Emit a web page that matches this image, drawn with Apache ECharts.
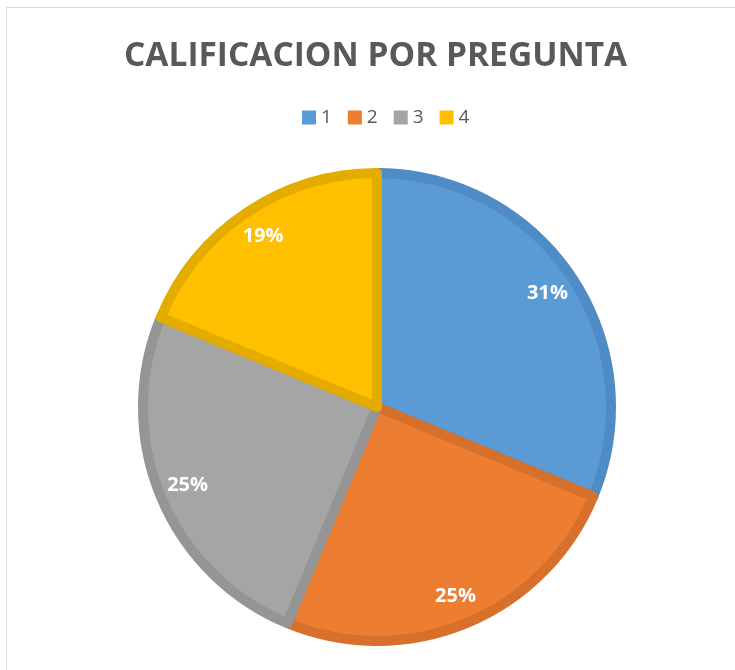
<!DOCTYPE html>
<html>
<head>
<meta charset="utf-8">
<script src="https://cdn.jsdelivr.net/npm/echarts@6/dist/echarts.min.js"></script>
<style>
  html, body { margin: 0; padding: 0; background: #fff; }
  #container { width: 735px; height: 670px; }
</style>
</head>
<body>
<div id="container"></div>
<script>
var dom = document.getElementById("container");
var myChart = echarts.init(dom);
var option;

// data
var categories = ["1", "2", "3", "4"];
var values = [5, 4, 4, 3];
var fillColors = ["#5B9BD5", "#ED7D31", "#A5A5A5", "#FFC000"];
var edgeColors = ["#4F8BC4", "#D6702B", "#959595", "#E5AC00"];

var pieData = categories.map(function (c, i) {
  return {
    name: c,
    value: values[i],
    itemStyle: { color: fillColors[i], borderColor: edgeColors[i] }
  };
});

// transparent ring used only to place the % labels near the rim
var labelData = categories.map(function (c, i) {
  return { name: c, value: values[i] };
});

option = {
  animation: false,
  title: {
    text: "CALIFICACION POR PREGUNTA",
    left: 119,
    top: 34,
    textStyle: {
      fontFamily: "Open Sans",
      fontWeight: "bold",
      fontSize: 33.5,
      color: "#595959"
    }
  },
  legend: {
    data: categories,
    left: 297,
    top: 103,
    itemWidth: 14,
    itemHeight: 14,
    itemGap: 16,
    icon: "rect",
    itemStyle: { borderWidth: 0 },
    textStyle: { fontFamily: "Open Sans", fontSize: 19, color: "#595959" }
  },
  graphic: [
    {
      type: "rect",
      shape: { x: 6.5, y: 7.5, width: 760, height: 700 },
      style: { fill: "none", stroke: "#d9d9d9", lineWidth: 1 },
      silent: true
    }
  ],
  series: [
    {
      name: "CALIFICACION POR PREGUNTA",
      type: "pie",
      center: [377, 407],
      radius: 234,
      startAngle: 90,
      clockwise: true,
      data: pieData,
      itemStyle: { borderWidth: 10 },
      label: { show: false },
      labelLine: { show: false },
      emphasis: { disabled: true }
    },
    {
      name: "labels",
      type: "pie",
      center: [377, 407],
      radius: [166, 238],
      startAngle: 90,
      clockwise: true,
      silent: true,
      legendHoverLink: false,
      data: labelData,
      itemStyle: { color: "rgba(0,0,0,0)", borderWidth: 0 },
      label: {
        show: true,
        position: "inside",
        formatter: function (p) { return Math.round(p.percent) + "%"; },
        fontFamily: "Open Sans",
        fontWeight: "bold",
        fontSize: 20,
        color: "#ffffff"
      },
      labelLine: { show: false },
      emphasis: { disabled: true }
    }
  ]
};

myChart.setOption(option);
</script>
</body>
</html>
